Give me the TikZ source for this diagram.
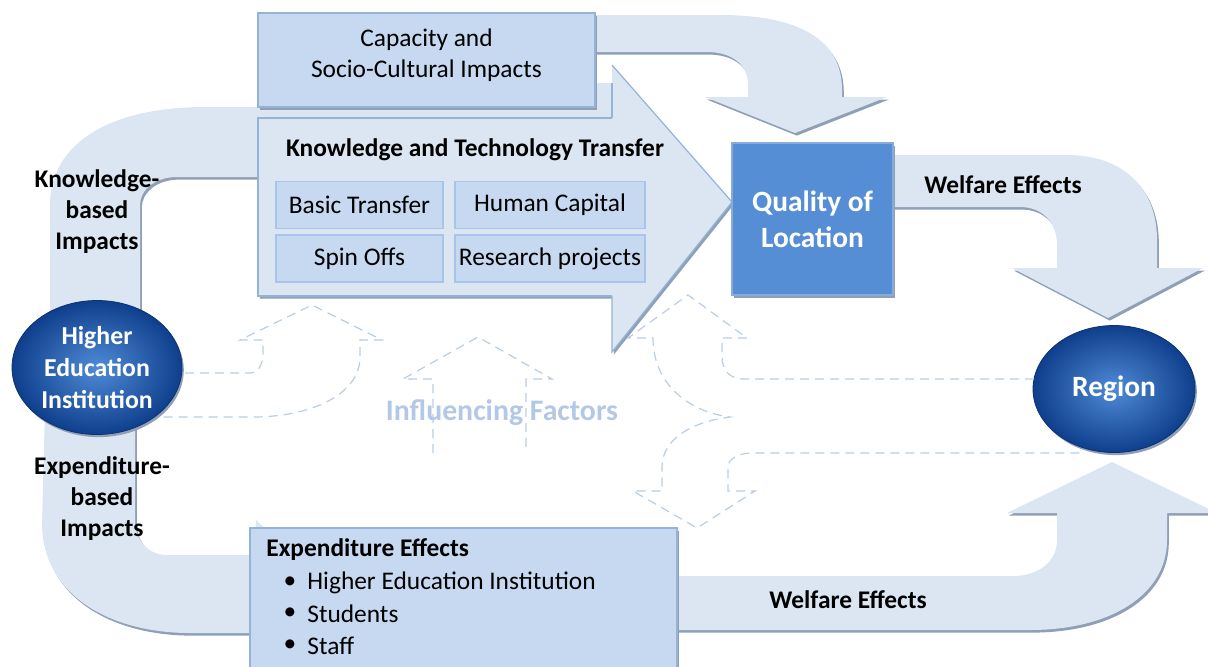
\documentclass[tikz,border=0pt]{standalone}
\usepackage{fontspec}
\setmainfont{Carlito}
\usetikzlibrary{shapes.geometric,shadows}
\definecolor{bandc}{HTML}{DCE6F2}
\definecolor{shadowc}{HTML}{8FA0B6}
\definecolor{boxc}{HTML}{C6D9F1}
\definecolor{boxborder}{HTML}{95B3D7}
\definecolor{subborder}{HTML}{A7C4EA}
\definecolor{qualc}{HTML}{558ED5}
\definecolor{dashc}{HTML}{B9CDE5}
\definecolor{inflc}{HTML}{B3C8E6}
\definecolor{ellin}{HTML}{4F8BD6}
\definecolor{ellout}{HTML}{0F3F8C}
\newcommand\bodyfs{\fontsize{12.7}{15.5}\selectfont}
\newcommand\bigfs{\fontsize{14.7}{18}\selectfont}
\begin{document}
\begin{tikzpicture}[x=0.5pt,y=-0.5pt,
  shd/.style={drop shadow={shadow xshift=0.9pt,shadow yshift=-1.3pt,opacity=1,fill=shadowc}},
  band/.style={fill=bandc,shd},
  boxnode/.style={draw=boxborder,fill=boxc,line width=0.7pt,shd,inner sep=0pt},
  subbox/.style={draw=subborder,fill=boxc,line width=0.6pt,inner sep=0pt,minimum width=83.5pt,minimum height=23.5pt,font=\bodyfs},
  dashline/.style={draw=dashc,line width=0.6pt,dash pattern=on 4.5pt off 3pt},
  orb/.style={ellipse,inner sep=0pt,shade,inner color=ellin,outer color=ellout,draw=ellout!80!black,line width=0.4pt,shd,text=white,font=\bodyfs\bfseries,align=center},
  lbl/.style={font=\bodyfs\bfseries,align=center,inner sep=1pt},
  txt/.style={font=\bodyfs,inner sep=1pt}]
\useasboundingbox (0,0) rectangle (1208,666);
\clip (0,0) rectangle (1208,666);

% ---- broad bands ----
% top band: capacity -> quality
\path[band] (580,15) -- (720,15) .. controls (800,15) and (842,40) .. (842,90) -- (842,97) -- (887,97) -- (795,133) -- (705,97) -- (748,97) -- (748,85) .. controls (748,63) and (730,52) .. (707,52) -- (580,52) -- cycle;
% right band: quality -> region
\path[band] (880,155) -- (1067,155) .. controls (1125,155) and (1157,190) .. (1157,240) -- (1157,268) -- (1203,268) -- (1108,318) -- (1012,268) -- (1057,268) -- (1057,245) .. controls (1057,222) and (1042,207) .. (1020,207) -- (880,207) -- cycle;
% bottom band: expenditure -> region
\path[band] (665,576) -- (1013,576) .. controls (1038,576) and (1057,562) .. (1057,540) -- (1057,513) -- (1007,513) -- (1112,462) -- (1217,513) -- (1167,513) -- (1167,540) .. controls (1167,595) and (1110,630) .. (1030,630) -- (665,630) -- cycle;
% upper left band: HEI -> knowledge transfer
\path[band] (262,107) -- (205,107) .. controls (112,107) and (50,142) .. (50,205) -- (50,370) -- (140,370) -- (140,205) .. controls (140,190) and (155,177) .. (177,177) -- (262,177) -- cycle;
% lower left band: HEI -> expenditure effects
\path[band] (46,370) -- (42,523) .. controls (42,595) and (110,633) .. (190,633) -- (256,633) -- (256,668) -- (336,594) -- (256,520) -- (256,555) -- (167,555) .. controls (148,555) and (135,540) .. (135,520) -- (135,370) -- cycle;

% ---- knowledge and technology transfer arrow ----
\path[fill=bandc,shd] (258,83) -- (612,83) -- (612,65) -- (732,202) -- (612,352) -- (612,296) -- (258,296) -- cycle;
\draw[boxborder,line width=0.6pt] (612,65) -- (732,202) -- (612,352) -- (612,296);
\draw[boxborder,line width=0.6pt] (612,83) -- (612,118);
\draw[boxborder,line width=0.7pt] (612,118) -- (258,118) -- (258,296) -- (612,296);
\node[lbl] (ktt) at (475,150) {Knowledge and Technology Transfer};
\node[subbox] (basic) at (359.5,205) {Basic Transfer};
\node[subbox,minimum width=95pt] (human) at (550,205) {Human Capital};
\node[subbox] (spin) at (359.5,258.5) {Spin Offs};
\node[subbox,minimum width=95pt] (research) at (550,258.5) {Research projects};

% ---- capacity box ----
\node[boxnode,minimum width=168.5pt,minimum height=47pt] (cap) at (426.5,60) {};
\node[txt,align=center] (captxt) at (426.5,55.5) {Capacity and\\Socio-Cultural Impacts};

% ---- quality of location ----
\node[draw=boxborder!80!qualc,fill=qualc,line width=0.6pt,shd,minimum width=80.5pt,minimum height=76pt,inner sep=0pt,text=white,font=\bigfs\bfseries,align=center] (qual) at (812.5,219) {Quality of\\Location};

% ---- expenditure box ----
\node[boxnode,minimum width=213.5pt,minimum height=80pt] (exp) at (463.5,608) {};
\node[txt,font=\bodyfs\bfseries,anchor=west] (exph) at (264,550) {Expenditure Effects};
\node[txt,anchor=center] (b1) at (290,583) {\textbullet};
\node[txt,anchor=west] (e1) at (305,583) {Higher Education Institution};
\node[txt,anchor=center] (b2) at (290,614) {\textbullet};
\node[txt,anchor=west] (e2) at (305,614) {Students};
\node[txt,anchor=center] (b3) at (290,646) {\textbullet};
\node[txt,anchor=west] (e3) at (305,646) {Staff};

% ---- orbs ----
\node[orb,minimum width=85pt,minimum height=67pt,font=\fontsize{12.9}{15.8}\selectfont\bfseries] (hei) at (97,367.5) {Higher\\Education\\Institution};
\node[orb,minimum width=81pt,minimum height=63.5pt,font=\bigfs\bfseries] (region) at (1114,389) {Region};

% ---- influencing factors (dashed arrows) ----
\coordinate (heiA) at (185,373);
\coordinate (heiB) at (160,417);
\coordinate (regA) at (1034,379);
\coordinate (regB) at (1080,453);
\draw[dashline] (heiA) -- (250,373) .. controls (258,373) and (263,365) .. (263,353) -- (263,340) -- (240,340) -- (312,305) -- (382,340) -- (360,340) -- (360,357) .. controls (360,395) and (310,417) .. (253,417) -- (heiB);
\draw[dashline] (433,453) -- (433,379) -- (403,379) -- (478,337) -- (552,379) -- (526,379) -- (526,450);
\draw[dashline] (regA) -- (743,379) .. controls (730,379) and (722,370) .. (722,357) -- (722,338) -- (747,338) -- (688,295) -- (628,338) -- (653,338) .. controls (653,385) and (690,412) .. (730,417)
  .. controls (690,422) and (662,440) .. (662,467) -- (662,491) -- (633,491) -- (697,528) -- (755,491) -- (728,491) -- (728,467) .. controls (728,458) and (740,453) .. (752,453) -- (regB);
\node[font=\fontsize{14.9}{18}\selectfont\bfseries,text=inflc,inner sep=0pt] (infl) at (502,413) {Influencing Factors};

% ---- band labels ----
\node[lbl] (kbi) at (97,212) {Knowledge-\\based\\Impacts};
\node[lbl] (ebi) at (102,499) {Expenditure-\\based\\Impacts};
\node[lbl] (wel1) at (1003,185) {Welfare Effects};
\node[lbl] (wel2) at (848,600) {Welfare Effects};
\end{tikzpicture}
\end{document}
